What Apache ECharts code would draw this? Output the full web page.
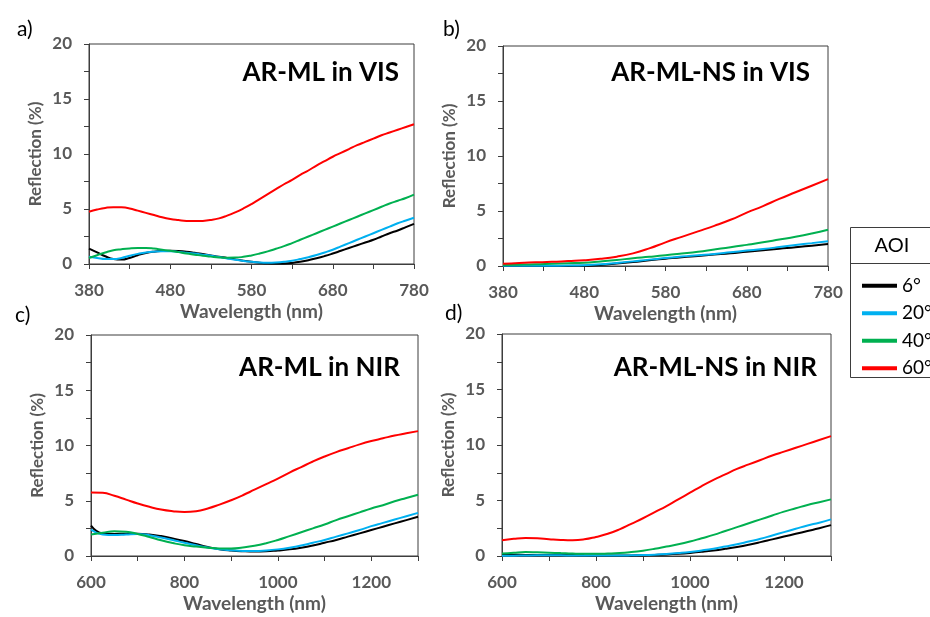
<!DOCTYPE html>
<html><head><meta charset="utf-8">
<script src="https://cdn.jsdelivr.net/npm/echarts@6/dist/echarts.min.js"></script>
<style>html,body{margin:0;padding:0;background:#fff}#c{width:930px;height:617px}</style>
</head><body><div id="c"></div>
<script>
// ---- Data ----
const aoiNames = ['6°', '20°', '40°', '60°'];
const aoiColors = ['#000000', '#00B0F0', '#00B050', '#FF0000'];

// a) AR-ML in VIS (10 nm steps)
const wlA = [380,390,400,410,420,430,440,450,460,470,480,490,500,510,520,530,540,550,560,570,580,590,600,610,620,630,640,650,660,670,680,690,700,710,720,730,740,750,760,770,780];
const a6  = [1.4,1.05,0.7,0.45,0.4,0.55,0.8,1.0,1.12,1.18,1.2,1.18,1.12,1.02,0.9,0.78,0.66,0.55,0.42,0.3,0.2,0.12,0.06,0.04,0.05,0.1,0.2,0.35,0.52,0.72,0.95,1.2,1.45,1.7,1.95,2.2,2.5,2.8,3.05,3.35,3.65];
const a20 = [0.65,0.55,0.45,0.45,0.55,0.75,0.92,1.05,1.12,1.15,1.15,1.1,1.03,0.95,0.85,0.75,0.63,0.5,0.38,0.28,0.2,0.14,0.12,0.14,0.2,0.3,0.45,0.62,0.82,1.05,1.3,1.6,1.9,2.2,2.5,2.8,3.1,3.4,3.7,3.95,4.2];
const a40 = [0.55,0.8,1.05,1.25,1.35,1.42,1.45,1.45,1.4,1.3,1.2,1.08,0.95,0.85,0.75,0.67,0.6,0.57,0.58,0.65,0.78,0.95,1.15,1.38,1.62,1.9,2.2,2.5,2.8,3.1,3.4,3.7,4.0,4.3,4.6,4.9,5.2,5.5,5.75,6.0,6.3];
const a60 = [4.75,4.95,5.1,5.17,5.15,5.05,4.85,4.65,4.45,4.25,4.1,4.0,3.92,3.9,3.92,4.0,4.15,4.4,4.7,5.05,5.45,5.9,6.35,6.8,7.25,7.65,8.1,8.5,8.95,9.35,9.75,10.1,10.45,10.8,11.1,11.4,11.7,11.95,12.2,12.45,12.7];

// b) AR-ML-NS in VIS (20 nm steps)
const wlB = [380,400,420,440,460,480,500,520,540,560,580,600,620,640,660,680,700,720,740,760,780];
const b6  = [0.0,0.0,0.0,0.0,0.01,0.03,0.1,0.22,0.36,0.52,0.66,0.8,0.92,1.04,1.16,1.3,1.43,1.57,1.7,1.85,2.0];
const b20 = [0.02,0.02,0.02,0.03,0.04,0.07,0.15,0.28,0.42,0.58,0.72,0.86,0.98,1.1,1.25,1.4,1.55,1.72,1.9,2.08,2.25];
const b40 = [0.1,0.12,0.15,0.2,0.25,0.3,0.42,0.55,0.7,0.83,0.97,1.13,1.3,1.5,1.7,1.92,2.15,2.4,2.65,2.95,3.3];
const b60 = [0.2,0.28,0.33,0.38,0.45,0.52,0.65,0.85,1.15,1.6,2.15,2.65,3.15,3.65,4.2,4.85,5.45,6.1,6.7,7.3,7.9];

// c) and d) NIR (25 nm steps)
const wlNIR = [600,625,650,675,700,725,750,775,800,825,850,875,900,925,950,975,1000,1025,1050,1075,1100,1125,1150,1175,1200,1225,1250,1275,1300];
const c6  = [2.75,2.05,2.0,2.02,2.02,1.95,1.8,1.58,1.35,1.08,0.82,0.62,0.5,0.43,0.4,0.42,0.5,0.6,0.75,0.95,1.2,1.45,1.75,2.05,2.35,2.65,2.95,3.25,3.55];
const c20 = [2.4,1.95,1.9,1.95,2.0,1.88,1.68,1.45,1.2,0.97,0.77,0.62,0.52,0.46,0.45,0.5,0.6,0.75,0.95,1.2,1.45,1.75,2.05,2.35,2.7,3.0,3.3,3.6,3.9];
const c40 = [1.95,2.1,2.25,2.2,2.0,1.72,1.42,1.17,0.97,0.85,0.75,0.68,0.68,0.77,0.92,1.15,1.45,1.8,2.15,2.5,2.85,3.25,3.6,3.95,4.3,4.6,4.95,5.25,5.55];
const c60 = [5.75,5.72,5.45,5.1,4.75,4.45,4.2,4.05,3.98,4.05,4.3,4.65,5.05,5.5,6.0,6.5,7.0,7.55,8.05,8.55,9.0,9.4,9.75,10.1,10.4,10.65,10.9,11.1,11.3];

const d6  = [0.15,0.12,0.1,0.1,0.1,0.1,0.08,0.06,0.05,0.04,0.04,0.05,0.07,0.1,0.14,0.2,0.28,0.38,0.5,0.65,0.82,1.02,1.25,1.5,1.75,2.0,2.25,2.5,2.78];
const d20 = [0.02,0.03,0.05,0.06,0.06,0.06,0.05,0.05,0.05,0.05,0.05,0.06,0.08,0.12,0.18,0.26,0.36,0.5,0.66,0.85,1.05,1.3,1.55,1.85,2.15,2.45,2.75,3.0,3.3];
const d40 = [0.22,0.3,0.35,0.33,0.3,0.26,0.22,0.2,0.2,0.22,0.26,0.35,0.48,0.65,0.85,1.05,1.3,1.6,1.9,2.25,2.6,2.95,3.3,3.65,4.0,4.3,4.6,4.85,5.1];
const d60 = [1.42,1.55,1.62,1.6,1.52,1.45,1.42,1.5,1.72,2.0,2.4,2.9,3.4,3.95,4.5,5.1,5.7,6.3,6.85,7.35,7.85,8.25,8.65,9.05,9.4,9.75,10.1,10.45,10.8];

const panelTitles = ['AR-ML in VIS', 'AR-ML-NS in VIS', 'AR-ML in NIR', 'AR-ML-NS in NIR'];
const panelLetters = ['a)', 'b)', 'c)', 'd)'];
const yTickValues = [0, 5, 10, 15, 20];

// ---- Build ----
const FONT = 'Lato, "Open Sans", sans-serif';
const AX = '#595959';
const FRAME = '#3d3d3d';
const panels = [
  {wl: wlA, vals: [a6, a20, a40, a60], grid: {left: 89, top: 44, width: 325, height: 220}, vis: true},
  {wl: wlB, vals: [b6, b20, b40, b60], grid: {left: 503, top: 46, width: 325, height: 220}, vis: true},
  {wl: wlNIR, vals: [c6, c20, c40, c60], grid: {left: 91, top: 335, width: 327, height: 221}, vis: false},
  {wl: wlNIR, vals: [d6, d20, d40, d60], grid: {left: 502, top: 334, width: 329, height: 222}, vis: false}
];

const grids = [], xAxes = [], yAxes = [], series = [], titles = [];
panels.forEach((p, k) => {
  grids.push(Object.assign({show: true, borderColor: FRAME, borderWidth: 1, backgroundColor: 'transparent'}, p.grid));
  xAxes.push({
    type: 'value', gridIndex: k,
    min: p.vis ? 380 : 600, max: p.vis ? 780 : 1300, interval: p.vis ? 50 : 100,
    name: 'Wavelength (nm)', nameLocation: 'middle', nameGap: 38,
    nameTextStyle: {color: AX, fontFamily: FONT, fontWeight: 'bold', fontSize: 19},
    axisLine: {lineStyle: {color: FRAME, width: 1}},
    axisTick: {show: true, length: 5, lineStyle: {color: FRAME}},
    splitLine: {show: false},
    axisLabel: {
      color: AX, fontFamily: FONT, fontWeight: 'bold', fontSize: 17, margin: 18, showMaxLabel: true,
      formatter: p.vis ? (v => ((v - 380) % 100 === 0 ? String(v) : ''))
                       : (v => (v % 200 === 0 ? String(v) : ''))
    }
  });
  yAxes.push({
    type: 'value', gridIndex: k, min: 0, max: 20, interval: 2.5,
    name: 'Reflection (%)', nameLocation: 'middle', nameGap: 45,
    nameTextStyle: {color: AX, fontFamily: FONT, fontWeight: 'bold', fontSize: 17},
    axisLine: {show: true, lineStyle: {color: FRAME, width: 1}},
    axisTick: {show: true, length: 5, lineStyle: {color: FRAME}},
    splitLine: {show: false},
    axisLabel: {
      color: AX, fontFamily: FONT, fontWeight: 'bold', fontSize: 17, margin: 17,
      formatter: v => (yTickValues.indexOf(v) >= 0 ? String(v) : '')
    }
  });
  p.vals.forEach((vals, j) => {
    series.push({
      type: 'line', name: aoiNames[j], xAxisIndex: k, yAxisIndex: k,
      data: p.wl.map((w, i) => [w, vals[i]]),
      smooth: true, showSymbol: false, symbol: 'none',
      lineStyle: {color: aoiColors[j], width: 2}, itemStyle: {color: aoiColors[j]},
      z: 2 + j
    });
  });
});

// panel titles (right-aligned inside plot)
const titleRight = [526, 115, 525, 108];
const titleTop = [55, 55, 350, 350];
panelTitles.forEach((t, k) => {
  titles.push({text: t, right: titleRight[k], top: titleTop[k],
    textStyle: {fontFamily: FONT, fontWeight: 'bold', fontSize: 26, color: '#000'}});
});
const letterPos = [[12, 14], [438, 14], [10, 300], [440, 298]];
panelLetters.forEach((t, k) => {
  titles.push({text: t, left: letterPos[k][0], top: letterPos[k][1],
    textStyle: {fontFamily: FONT, fontWeight: 'normal', fontSize: 21, color: '#000'}});
});

const chart = echarts.init(document.getElementById('c'), null, {renderer: 'canvas'});
chart.setOption({
  animation: false,
  backgroundColor: '#fff',
  title: titles,
  grid: grids, xAxis: xAxes, yAxis: yAxes, series: series,
  legend: {
    data: aoiNames, orient: 'vertical', left: 857, top: 267,
    icon: 'rect', itemWidth: 35, itemHeight: 4, itemGap: 0,
    textStyle: {fontFamily: FONT, fontSize: 19, color: '#000', lineHeight: 27.5, padding: [0, 0, 0, 0]},
    selectedMode: false
  },
  graphic: [
    {type: 'rect', shape: {x: 850.5, y: 227.5, width: 100, height: 150}, style: {fill: 'none', stroke: FRAME, lineWidth: 1}, silent: true},
    {type: 'line', shape: {x1: 850.5, y1: 263.5, x2: 930, y2: 263.5}, style: {stroke: FRAME, lineWidth: 1}, silent: true},
    {type: 'text', x: 892, y: 246, style: {text: 'AOI', fontFamily: FONT, fontSize: 20, fill: '#000', textAlign: 'center', textVerticalAlign: 'middle'}, silent: true}
  ]
});
</script></body></html>
